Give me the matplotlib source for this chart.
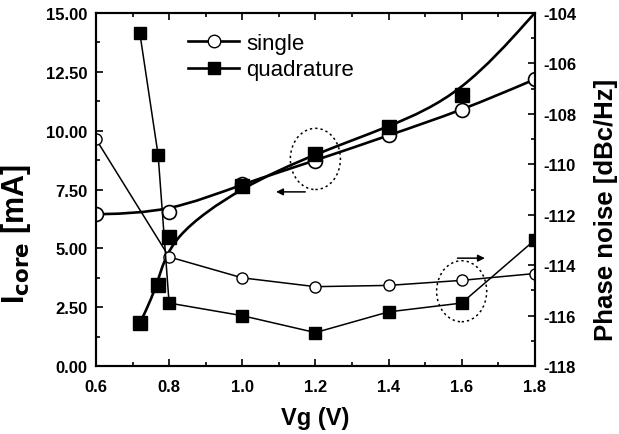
import numpy as np
import matplotlib.pyplot as plt
from matplotlib.path import Path
from matplotlib.patches import PathPatch, Ellipse
from matplotlib.lines import Line2D
from matplotlib.ticker import MultipleLocator

plt.rcParams['font.family'] = ['Liberation Sans', 'DejaVu Sans']
plt.rcParams['axes.unicode_minus'] = False

# core current (left axis)
vg_single = [0.6, 0.8, 1.0, 1.2, 1.4, 1.6, 1.8]
icore_single = [6.45, 6.53, 7.74, 8.73, 9.80, 10.86, 12.18]
vg_quad = [0.72, 0.77, 0.8, 1.0, 1.2, 1.4, 1.6, 1.8]
icore_quad = [1.82, 3.46, 5.47, 7.63, 9.02, 10.15, 11.53, 15.0]

# phase noise (right axis)
pn_single = [-109.0, -113.67, -114.5, -114.85, -114.8, -114.6, -114.33]
pn_quad = [-104.8, -109.63, -115.5, -116.0, -116.67, -115.85, -115.5, -113.0]


def bspline_path(x, y):
    # clamped uniform cubic B-spline with the points as control polygon
    p = np.column_stack([x, y]).astype(float)
    p = np.vstack([p[0], p[0], p, p[-1], p[-1]])
    verts, codes = [], []
    for i in range(1, len(p) - 2):
        a, b, c, d = p[i - 1], p[i], p[i + 1], p[i + 2]
        b0 = (a + 4 * b + c) / 6
        b1 = (2 * b + c) / 3
        b2 = (b + 2 * c) / 3
        b3 = (b + 4 * c + d) / 6
        if not verts:
            verts.append(b0)
            codes.append(Path.MOVETO)
        verts += [b1, b2, b3]
        codes += [Path.CURVE4] * 3
    return Path(verts, codes)


fig = plt.figure(figsize=(6.19, 4.35), dpi=100)
ax = fig.add_axes([0.155, 0.156, 0.709, 0.812])
ax2 = ax.twinx()

lw_thick, lw_thin = 1.9, 1.1

ax.add_patch(PathPatch(bspline_path(vg_single, icore_single), fill=False, lw=lw_thick, color='black'))
ax.add_patch(PathPatch(bspline_path(vg_quad, icore_quad), fill=False, lw=lw_thick, color='black'))
ax.plot(vg_single, icore_single, ls='none', marker='o', ms=10, mfc='white', mec='black', mew=1.2)
ax.plot(vg_quad[:-1], icore_quad[:-1], ls='none', marker='s', ms=10, color='black')

ax2.plot(vg_single, pn_single, color='black', lw=lw_thin, marker='o', ms=8, mfc='white', mec='black', mew=1.0)
ax2.plot(vg_quad, pn_quad, color='black', lw=lw_thin, marker='s', ms=8)

ax.set_xlim(0.6, 1.8)
ax.set_ylim(0, 15)
ax2.set_ylim(-118, -104)

ax.xaxis.set_major_locator(MultipleLocator(0.2))
ax.xaxis.set_minor_locator(MultipleLocator(0.1))
ax.yaxis.set_major_locator(MultipleLocator(2.5))
ax.yaxis.set_minor_locator(MultipleLocator(1.25))
ax2.yaxis.set_major_locator(MultipleLocator(2))
ax2.yaxis.set_minor_locator(MultipleLocator(1))
ax.yaxis.set_major_formatter(lambda v, pos: f"{v:.2f}")
ax.xaxis.set_major_formatter(lambda v, pos: f"{v:.1f}")

for a in (ax, ax2):
    a.tick_params(which='both', direction='in', labelsize=12, width=1.2, pad=6)
    a.tick_params(which='major', length=5)
    a.tick_params(which='minor', length=3)
    for lab in a.get_xticklabels() + a.get_yticklabels():
        lab.set_fontweight('bold')
    for s in a.spines.values():
        s.set_linewidth(1.5)
ax.tick_params(which='both', top=True)
ax.tick_params(axis='x', pad=9)

ax.set_xlabel('Vg (V)', fontsize=17, fontweight='bold', labelpad=9)
ax.set_ylabel(r'I$_{\mathbf{core}}$ [mA]', fontsize=22, fontweight='bold')
ax2.set_ylabel('Phase noise [dBc/Hz]', fontsize=18.5, fontweight='bold')
ax.yaxis.set_label_coords(-0.1435, 0.377)
ax2.yaxis.set_label_coords(1.134, 0.445)

# dotted circles and arrows
ax.add_patch(Ellipse((1.2, 8.8), 0.137, 2.6, fill=False, ls=(0, (1.5, 2)), lw=1.1, color='black'))
ax.annotate('', xy=(1.085, 7.4), xytext=(1.18, 7.4),
            arrowprops=dict(arrowstyle='-|>', color='black', lw=1.1, mutation_scale=10))
ax2.add_patch(Ellipse((1.6, -115.03), 0.137, 2.42, fill=False, ls=(0, (1.5, 2)), lw=1.1, color='black'))
ax2.annotate('', xy=(1.671, -113.72), xytext=(1.581, -113.72),
             arrowprops=dict(arrowstyle='-|>', color='black', lw=1.1, mutation_scale=10))

handles = [Line2D([], [], color='black', lw=lw_thick, marker='o', ms=9, mfc='white', mec='black'),
           Line2D([], [], color='black', lw=lw_thick, marker='s', ms=9)]
ax.legend(handles, ['single', 'quadrature'], loc='upper left', bbox_to_anchor=(0.165, 1.0),
          frameon=False, fontsize=16, handlelength=2.3, handletextpad=0.3, labelspacing=0.25)

fig.savefig('out.png', dpi=100)
